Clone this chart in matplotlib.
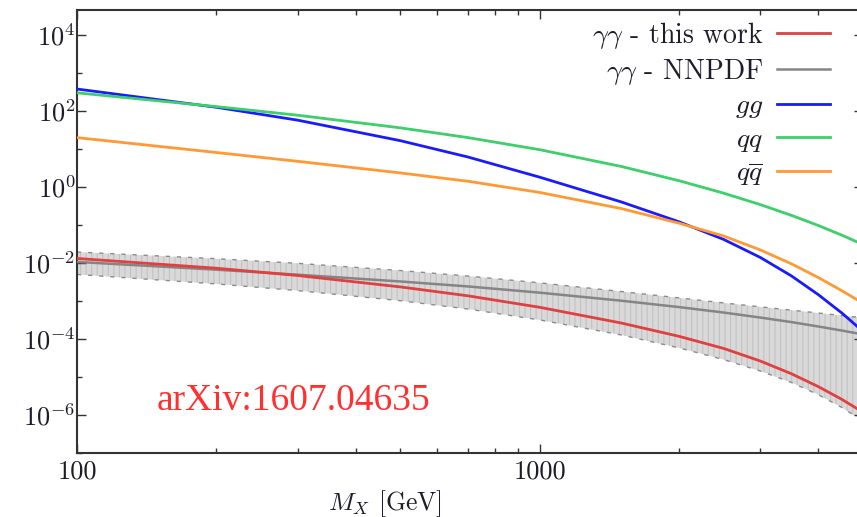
import matplotlib
matplotlib.use("Agg")
import matplotlib.pyplot as plt
import numpy as np

# invariant mass grid [GeV]
mass = [100, 200, 300, 500, 700, 1000, 1500, 2000, 2500, 3000, 3500, 4000, 4500, 5000]

# partonic luminosities
lumi_gg = [380, 126, 57.5, 16.6, 6.17, 1.82, 0.407, 0.122, 0.0417, 0.0140,
           4.60e-3, 1.48e-3, 4.84e-4, 1.58e-4]
lumi_qq = [302, 131, 77.6, 36.1, 20.0, 9.62, 3.49, 1.47, 0.689, 0.344,
           0.180, 0.0975, 0.0542, 0.0306]
lumi_qqbar = [20.0, 8.11, 4.75, 2.35, 1.42, 0.721, 0.272, 0.112, 0.0513, 0.0221,
              9.55e-3, 4.17e-3, 1.87e-3, 8.75e-4]
lumi_aa_this = [1.32e-2, 7.31e-3, 4.69e-3, 2.35e-3, 1.37e-3, 6.84e-4, 2.64e-4,
                1.18e-4, 5.64e-5, 2.63e-5, 1.22e-5, 5.61e-6, 2.58e-6, 1.18e-6]
lumi_aa_nnpdf = [1.07e-2, 6.68e-3, 4.93e-3, 3.27e-3, 2.42e-3, 1.66e-3, 1.02e-3,
                 6.93e-4, 4.97e-4, 3.67e-4, 2.79e-4, 2.14e-4, 1.67e-4, 1.32e-4]
nnpdf_hi = [1.95e-2, 1.30e-2, 9.82e-3, 6.35e-3, 4.54e-3, 3.01e-3, 1.78e-3,
            1.21e-3, 8.91e-4, 7.03e-4, 5.75e-4, 4.84e-4, 4.15e-4, 3.61e-4]
nnpdf_lo = [5.01e-3, 2.82e-3, 1.88e-3, 1.02e-3, 6.15e-4, 3.18e-4, 1.28e-4,
            5.86e-5, 2.87e-5, 1.44e-5, 7.18e-6, 3.44e-6, 1.58e-6, 6.92e-7]

ytick_vals = [1e4, 1e2, 1e0, 1e-2, 1e-4, 1e-6]
ytick_labels = [r"$10^{4}$", r"$10^{2}$", r"$10^{0}$", r"$10^{-2}$", r"$10^{-4}$", r"$10^{-6}$"]
yminor_vals = [1e3, 1e1, 1e-1, 1e-3, 1e-5, 1e-7]
xtick_vals = [100, 1000]
xtick_labels = ["100", "1000"]

plt.rcParams["font.family"] = "cmr10"
plt.rcParams["mathtext.fontset"] = "cm"
plt.rcParams["axes.unicode_minus"] = False
plt.rcParams["axes.formatter.use_mathtext"] = True
plt.rcParams["hatch.linewidth"] = 0.8

fig = plt.figure(figsize=(8.57, 5.17), dpi=100)
ax = fig.add_axes([0.0898, 0.1238, 0.9172, 0.8569])

# NNPDF photon band
ax.fill_between(mass, nnpdf_lo, nnpdf_hi, facecolor="#d9d9d9", edgecolor="#c2c2c2",
                hatch="|||", linewidth=0, zorder=1)
ax.plot(mass, nnpdf_hi, color="#8c8c8c", lw=1.0, ls=(0, (3, 5)), zorder=2)
ax.plot(mass, nnpdf_lo, color="#8c8c8c", lw=1.0, ls=(0, (3, 5)), zorder=2)

ax.plot(mass, lumi_aa_this, color="#e04040", lw=2.0, label=r"$\gamma\gamma$ - this work", zorder=4)
ax.plot(mass, lumi_aa_nnpdf, color="#858585", lw=1.8, label=r"$\gamma\gamma$ - NNPDF", zorder=3)
ax.plot(mass, lumi_gg, color="#1a1aff", lw=2.0, label=r"$gg$", zorder=5)
ax.plot(mass, lumi_qq, color="#3ccf6a", lw=2.0, label=r"$qq$", zorder=5)
ax.plot(mass, lumi_qqbar, color="#ff9933", lw=2.0, label=r"$q\overline{q}$", zorder=5)

ax.set_xscale("log")
ax.set_yscale("log")
ax.set_xlim(100, 5000)
ax.set_ylim(1e-7, 10 ** 4.66)

ax.set_xticks(xtick_vals)
ax.set_xticklabels(xtick_labels)
ax.set_yticks(ytick_vals)
ax.set_yticklabels(ytick_labels)
ax.set_yticks(yminor_vals, minor=True)
ax.yaxis.set_minor_formatter(matplotlib.ticker.NullFormatter())
ax.xaxis.set_minor_formatter(matplotlib.ticker.NullFormatter())

ax.tick_params(which="both", direction="in", top=True, right=True, color="#333333", width=1.0)
ax.tick_params(which="major", length=6.5)
ax.tick_params(which="minor", length=3.6)
ax.tick_params(axis="y", which="major", labelsize=19, pad=1, labelcolor="#1c1c2a")
ax.tick_params(axis="x", which="major", labelsize=19, pad=5, labelcolor="#1c1c2a")
for s in ax.spines.values():
    s.set_linewidth(1.5)
    s.set_color("#333333")

ax.set_xlabel(r"$M_X$ [GeV]", fontsize=18.5, color="#1c1c2a")
ax.xaxis.set_label_coords(0.392, -0.079)

ax.legend(loc="upper right", bbox_to_anchor=(0.958, 0.978), frameon=False,
          markerfirst=False, fontsize=20, handlelength=1.9, handletextpad=0.5,
          labelspacing=0.22, borderpad=0, borderaxespad=0, labelcolor="#1c1c2a")

ax.text(0.276, 0.117, "arXiv:1607.04635", transform=ax.transAxes, fontsize=27,
        color="#ff3030", family="Liberation Serif", ha="center", va="center")

fig.savefig("out.png", dpi=100)
